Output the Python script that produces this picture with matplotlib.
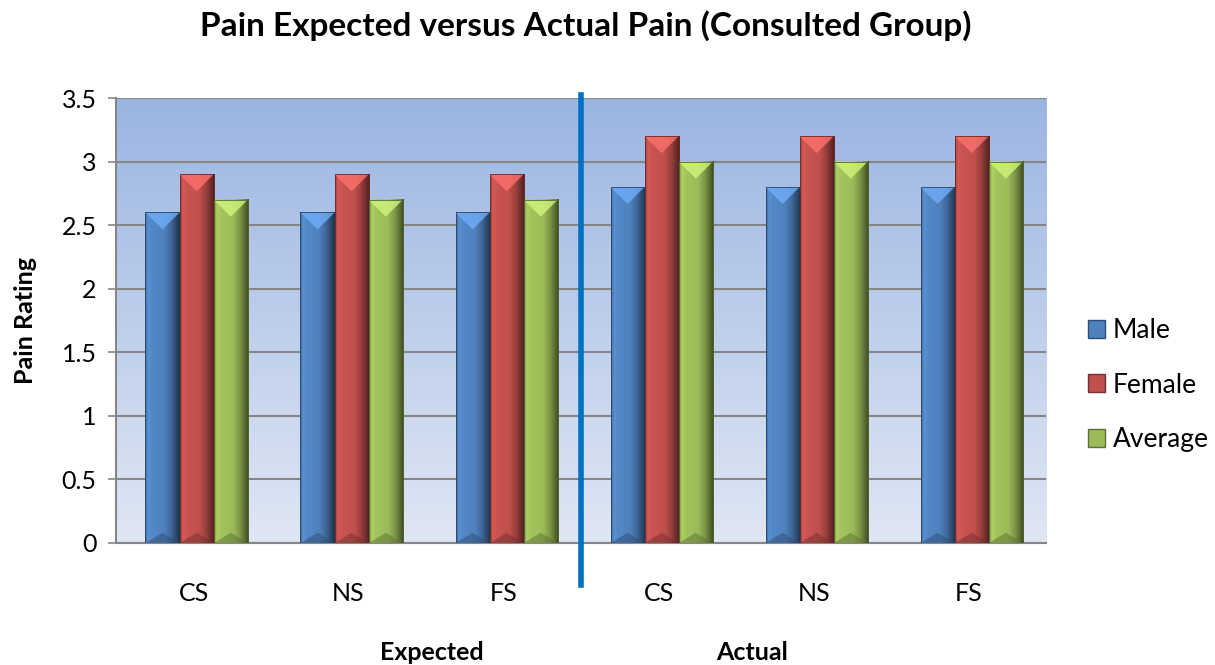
import numpy as np
import matplotlib
matplotlib.use("Agg")
import matplotlib.pyplot as plt
from matplotlib.colors import to_rgb
from matplotlib.patches import Polygon, Rectangle

# Chart data
categories = ["CS", "NS", "FS", "CS", "NS", "FS"]
male = [2.6, 2.6, 2.6, 2.8, 2.8, 2.8]
female = [2.9, 2.9, 2.9, 3.2, 3.2, 3.2]
average = [2.7, 2.7, 2.7, 3.0, 3.0, 3.0]
series_names = ["Male", "Female", "Average"]
series_colors = ["#4F81BD", "#C0504D", "#9BBB59"]
y_ticks = [0, 0.5, 1, 1.5, 2, 2.5, 3, 3.5]
group_labels = ["Expected", "Actual"]

plt.rcParams['font.family'] = ['Lato', 'DejaVu Sans']

fig = plt.figure(figsize=(12.15, 6.65), dpi=100)
ax = fig.add_axes([0.0955, 0.1835, 0.7655, 0.6691])

x = np.arange(len(categories))
width = 0.22
bevel = 0.134

# Background gradient of the plot area
top_c = np.array([155, 181, 226]) / 255
bot_c = np.array([224, 231, 244]) / 255
t = np.linspace(0, 1, 256)[:, None]
bg = (top_c * (1 - t) + bot_c * t)[:, None, :]
ax.imshow(bg, extent=[0, 1, 0, 1], transform=ax.transAxes, aspect='auto', zorder=0)

# Horizontal shading profile for the bars
prof_t = [0.0, 0.08, 0.2, 0.55, 0.75, 1.0]
prof_f = [0.80, 1.12, 1.05, 1.0, 0.80, 0.40]
ts = np.linspace(0, 1, 64)
shade = np.interp(ts, prof_t, prof_f)


def draw_bar(x0, h, color):
    base = np.array(to_rgb(color))
    img = np.clip(base[None, :] * shade[:, None], 0, 1)[None, :, :]
    ax.imshow(img, extent=[x0, x0 + width, 0, h], aspect='auto', zorder=3,
              interpolation='bilinear')
    xc = x0 + width / 2
    light = np.clip(base * 1.25 + 0.05, 0, 1)
    top = Polygon([[x0, h], [x0 + width, h], [xc, h - bevel]], closed=True,
                  facecolor=light, edgecolor='none', zorder=4, alpha=0.8)
    ax.add_patch(top)
    bot = Polygon([[x0, 0], [x0 + width, 0], [xc, bevel * 0.6]], closed=True,
                  facecolor=base * 0.6, edgecolor='none', zorder=4, alpha=0.5)
    ax.add_patch(bot)
    ax.add_patch(Rectangle((x0, 0), width, h, fill=False,
                           edgecolor=base * 0.55, lw=0.6, zorder=5))


for i, vals in enumerate([male, female, average]):
    for xi, v in zip(x, vals):
        draw_bar(xi + (i - 1) * width - width / 2 + 0.02, v, series_colors[i])

ax.set_xlim(-0.5, len(categories) - 0.5)
ax.set_ylim(0, 3.5)
ax.set_yticks(y_ticks)
ax.set_yticklabels([f"{v:g}" for v in y_ticks], fontsize=18)
ax.set_xticks(x)
ax.set_xticklabels(categories, fontsize=18)
ax.tick_params(axis='x', length=0, pad=28)
ax.tick_params(axis='y', length=6, color='#868686', width=1.2, pad=8)

ax.yaxis.grid(True, color='#868686', lw=1.5)
ax.set_axisbelow(True)
for side in ['top', 'right']:
    ax.spines[side].set_visible(False)
for side in ['left', 'bottom']:
    ax.spines[side].set_color('#868686')
    ax.spines[side].set_linewidth(1.5)

# Divider between expected and actual
ax.plot([2.5, 2.5], [-0.33, 3.52], color='#0070C0', lw=4, clip_on=False, zorder=6)

ax.set_ylabel("Pain Rating", fontsize=18, fontweight='bold', labelpad=18)
fig.suptitle("Pain Expected versus Actual Pain (Consulted Group)",
             fontsize=24, fontweight='bold', x=0.482, y=0.985)

ax.text(1.54, -0.86, group_labels[0], ha='center', va='center',
        fontsize=18, fontweight='bold', transform=ax.transData)
ax.text(3.60, -0.86, group_labels[1], ha='center', va='center',
        fontsize=18, fontweight='bold', transform=ax.transData)

# Legend
handles = [Rectangle((0, 0), 1, 1, facecolor=c, edgecolor=np.array(to_rgb(c)) * 0.6)
           for c in series_colors]
fig.legend(handles, series_names, loc='center left', bbox_to_anchor=(0.8955, 0.421),
           frameon=False, fontsize=19, handlelength=0.65, handleheight=0.65,
           handletextpad=0.3, labelspacing=1.12, borderaxespad=0, borderpad=0)

fig.savefig("out.png", dpi=100)
